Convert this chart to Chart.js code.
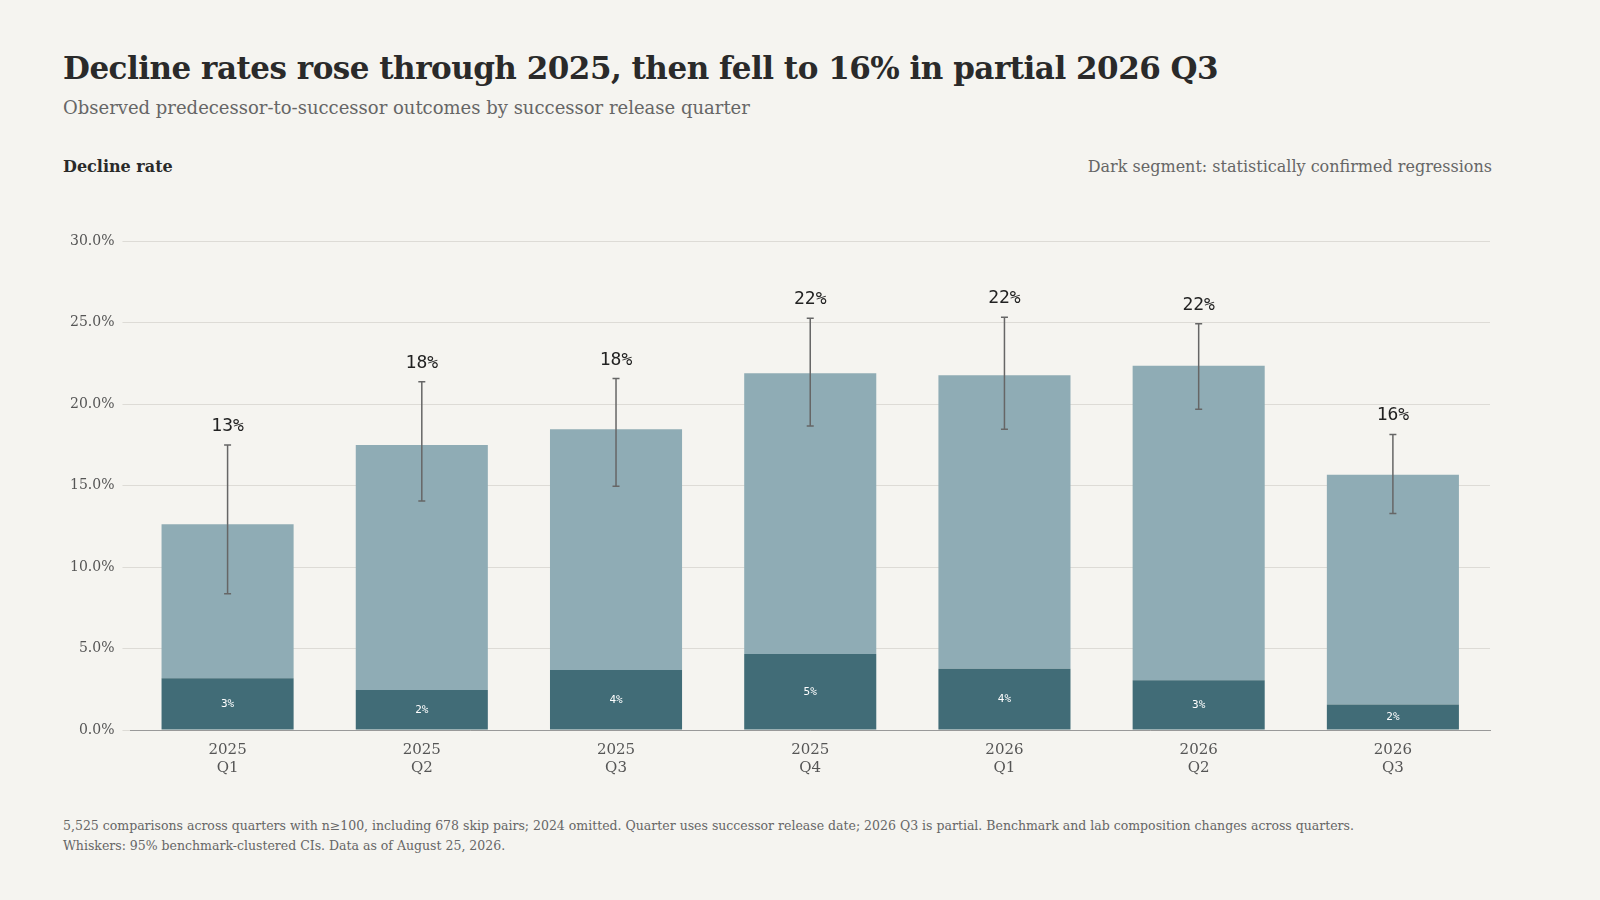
<!DOCTYPE html>
<html><head><meta charset="utf-8">
<script src="https://cdn.jsdelivr.net/npm/chart.js@4"></script>
<style>
body{margin:0;background:#F5F4F0;width:1600px;height:900px;overflow:hidden;font-family:"DejaVu Serif","Liberation Serif",serif;color:#2a2a2a;}
.t{position:absolute;white-space:nowrap}
#wrap{position:absolute;left:62px;top:225px;width:1458px;height:555px}
</style></head><body>
<div class="t" style="left:63px;top:50px;font-size:31px;font-weight:bold;letter-spacing:-0.5px">Decline rates rose through 2025, then fell to 16% in partial 2026 Q3</div>
<div class="t" style="left:63px;top:97px;font-size:18px;color:#666">Observed predecessor-to-successor outcomes by successor release quarter</div>
<div class="t" style="left:63px;top:157px;font-size:16px;font-weight:bold">Decline rate</div>
<div class="t" style="right:108px;top:157px;font-size:16px;color:#666">Dark segment: statistically confirmed regressions</div>
<div class="t" style="left:63px;top:816px;font-size:12.5px;color:#666;line-height:20px">5,525 comparisons across quarters with n≥100, including 678 skip pairs; 2024 omitted. Quarter uses successor release date; 2026 Q3 is partial. Benchmark and lab composition changes across quarters.<br>Whiskers: 95% benchmark-clustered CIs. Data as of August 25, 2026.</div>
<div id="wrap"><canvas id="c"></canvas></div>
<script>
const years=["2025","2025","2025","2025","2026","2026","2026"];
const quarters=["Q1","Q2","Q3","Q4","Q1","Q2","Q3"];
const total=[12.64,17.5,18.47,21.9,21.78,22.36,15.68];
const confirmed=[3.18,2.46,3.69,4.67,3.76,3.05,1.56];
const ciLow=[8.36,14.06,14.97,18.66,18.47,19.7,13.29];
const ciHigh=[17.5,21.39,21.58,25.28,25.34,24.95,18.15];
const rest=total.map((v,i)=>v-confirmed[i]);
const labels=years.map((y,i)=>[y,quarters[i]]);
const deco={id:'deco',afterDatasetsDraw(ch){
 const c=ch.ctx,x=ch.scales.x,y=ch.scales.y;
 c.save();
 total.forEach((t,i)=>{
  const px=x.getPixelForValue(i);
  c.strokeStyle='#666';c.lineWidth=1.5;c.beginPath();
  const a=y.getPixelForValue(ciHigh[i]),b=y.getPixelForValue(ciLow[i]);
  c.moveTo(px,a);c.lineTo(px,b);c.moveTo(px-3.5,a);c.lineTo(px+3.5,a);c.moveTo(px-3.5,b);c.lineTo(px+3.5,b);c.stroke();
  c.fillStyle='#222';c.font='18px "DejaVu Sans Mono","Liberation Mono",monospace';c.textAlign='center';c.textBaseline='alphabetic';
  c.fillText(Math.round(t)+'%',px,a-14);
  c.fillStyle='#fff';c.font='11px "DejaVu Sans Mono",monospace';c.textBaseline='middle';
  c.fillText(Math.round(confirmed[i])+'%',px,(y.getPixelForValue(0)+y.getPixelForValue(confirmed[i]))/2);
 });
 c.restore();
}};
new Chart(document.getElementById('c'),{type:'bar',
 data:{labels,datasets:[
  {data:confirmed,backgroundColor:'#416C77',categoryPercentage:0.68,barPercentage:1},
  {data:rest,backgroundColor:'#8FACB5',categoryPercentage:0.68,barPercentage:1}]},
 options:{responsive:true,maintainAspectRatio:false,animation:false,
  layout:{padding:{top:0,right:30}},
  plugins:{legend:{display:false},tooltip:{enabled:false}},
  scales:{
   x:{stacked:true,grid:{display:false},border:{color:'#999'},ticks:{color:'#555',font:{family:'"DejaVu Serif",serif',size:15}}},
   y:{stacked:true,min:0,max:30,ticks:{stepSize:5,color:'#555',padding:8,font:{family:'"DejaVu Serif",serif',size:14},callback:v=>v.toFixed(1)+'%'},grid:{color:'#DDDBD6'},border:{display:false}}
  }},
 plugins:[deco]});
</script></body></html>
